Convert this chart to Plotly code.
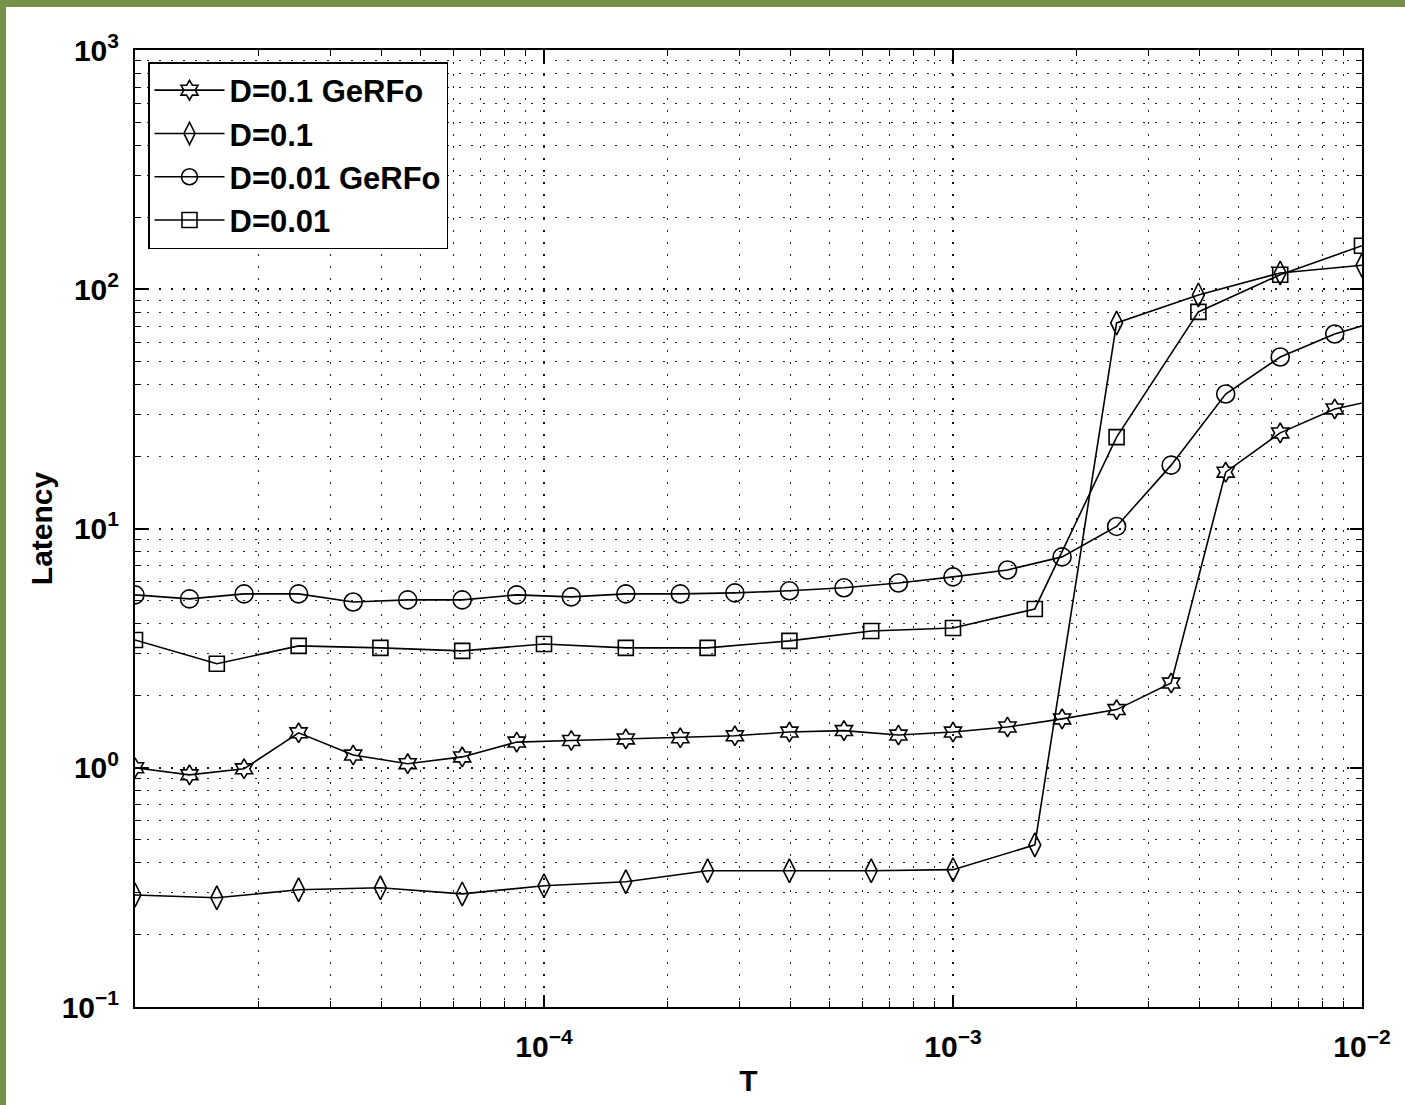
import plotly.graph_objects as go

# ---- data ----
t_fine = [1.000e-5, 1.359e-5, 1.848e-5, 2.512e-5, 3.415e-5, 4.642e-5, 6.310e-5, 8.577e-5,
          1.166e-4, 1.585e-4, 2.154e-4, 2.929e-4, 3.981e-4, 5.412e-4, 7.356e-4, 1.000e-3,
          1.359e-3, 1.848e-3, 2.512e-3, 3.415e-3, 4.642e-3, 6.310e-3, 8.577e-3, 1.166e-2]
t_coarse = [1.000e-5, 1.585e-5, 2.512e-5, 3.981e-5, 6.310e-5, 1.000e-4, 1.585e-4, 2.512e-4,
            3.981e-4, 6.310e-4, 1.000e-3, 1.585e-3, 2.512e-3, 3.981e-3, 6.310e-3, 1.000e-2]

d01_gerfo = [1.00, 0.934, 0.99, 1.40, 1.13, 1.04, 1.11, 1.28, 1.30, 1.32, 1.335, 1.36,
             1.41, 1.43, 1.37, 1.41, 1.48, 1.60, 1.75, 2.26, 17.2, 25.1, 31.6, 35.4]
d01 = [0.294, 0.286, 0.309, 0.315, 0.297, 0.321, 0.334, 0.371, 0.371, 0.371, 0.375,
       0.476, 72.3, 94.7, 117, 126]
d001_gerfo = [5.28, 5.08, 5.33, 5.33, 4.93, 5.03, 5.03, 5.28, 5.18, 5.33, 5.33, 5.38,
              5.49, 5.65, 5.92, 6.28, 6.71, 7.61, 10.2, 18.4, 36.5, 52.1, 65.0, 76.0]
d001 = [3.42, 2.72, 3.23, 3.17, 3.08, 3.29, 3.17, 3.17, 3.39, 3.73, 3.84, 4.61,
        24.1, 80.4, 115, 152]

series_names = ["D=0.1 GeRFo", "D=0.1", "D=0.01 GeRFo", "D=0.01"]

x_tickvals = [1e-4, 1e-3, 1e-2]
x_ticktext = ["10<sup>\u22124</sup>", "10<sup>\u22123</sup>", "10<sup>\u22122</sup>"]
y_tickvals = [1e-1, 1e0, 1e1, 1e2, 1e3]
y_ticktext = ["10<sup>\u22121</sup>", "10<sup>0</sup>", "10<sup>1</sup>", "10<sup>2</sup>", "10<sup>3</sup>"]

# ---- figure ----
W, H = 1405, 1105
L, R, T, B = 135, 43, 50, 98
PW, PH = W - L - R, H - T - B

FONT = "Liberation Sans"
fig = go.Figure()

styles = [
    (t_fine, d01_gerfo, "hexagram-open", 15),
    (t_coarse, d01, "diamond-tall-open", 17),
    (t_fine, d001_gerfo, "circle-open", 18),
    (t_coarse, d001, "square-open", 15),
]
for name, (xs, ys, sym, sz) in zip(series_names, styles):
    fig.add_trace(go.Scatter(
        x=xs, y=ys, name=name, mode="lines+markers",
        line=dict(color="black", width=1.6),
        marker=dict(symbol=sym, size=sz, color="black",
                    line=dict(color="black", width=1.6)),
        cliponaxis=True,
    ))

axis_common = dict(
    showline=True, linecolor="black", linewidth=2, mirror="allticks",
    ticks="inside", ticklen=12, tickwidth=1.5, tickcolor="black",
    showgrid=True, gridcolor="#111111", gridwidth=2, griddash="2px,10px",
    zeroline=False,
    tickfont=dict(family=FONT, size=30, color="black", weight="bold"),
    minor=dict(dtick="D1", ticks="inside", ticklen=6, tickcolor="black",
               tickwidth=1, showgrid=True, gridcolor="#222222",
               gridwidth=1, griddash="2px,10px"),
)

fig.update_xaxes(
    type="log", range=[-5, -2], tickmode="array",
    tickvals=x_tickvals, ticktext=x_ticktext, ticklabelstandoff=12,
    title=dict(text="T", font=dict(family=FONT, size=30, color="black", weight="bold"),
               standoff=8),
    automargin=False, **axis_common,
)
fig.update_yaxes(
    type="log", range=[-1, 3], tickmode="array",
    tickvals=y_tickvals, ticktext=y_ticktext, ticklabelstandoff=8,
    title=dict(text="Latency", font=dict(family=FONT, size=30, color="black", weight="bold"),
               standoff=0),
    automargin=False, **axis_common,
)

def px_to_paper_x(px):
    return (px - L) / PW

def px_to_paper_y(py):
    return 1 - (py - T) / PH

# green border (top and left strips of the page)
fig.add_shape(type="rect", xref="paper", yref="paper",
              x0=px_to_paper_x(0), x1=px_to_paper_x(W), y0=px_to_paper_y(7), y1=px_to_paper_y(0),
              fillcolor="#76924A", line=dict(width=0), layer="above")
fig.add_shape(type="rect", xref="paper", yref="paper",
              x0=px_to_paper_x(0), x1=px_to_paper_x(6), y0=px_to_paper_y(H), y1=px_to_paper_y(0),
              fillcolor="#76924A", line=dict(width=0), layer="above")

fig.update_layout(
    width=W, height=H,
    margin=dict(l=L, r=R, t=T, b=B, pad=0),
    paper_bgcolor="white", plot_bgcolor="white",
    font=dict(family=FONT, color="black"),
    showlegend=True,
    legend=dict(
        x=px_to_paper_x(148), y=px_to_paper_y(62), xanchor="left", yanchor="top",
        bgcolor="white", bordercolor="black", borderwidth=1.5,
        font=dict(family=FONT, size=31, color="black", weight="bold"),
        itemwidth=70, tracegroupgap=0,
    ),
)

fig.write_html("out.html", config={"displayModeBar": False},
               post_script="document.body.style.margin='0';document.body.style.overflow='hidden';")
